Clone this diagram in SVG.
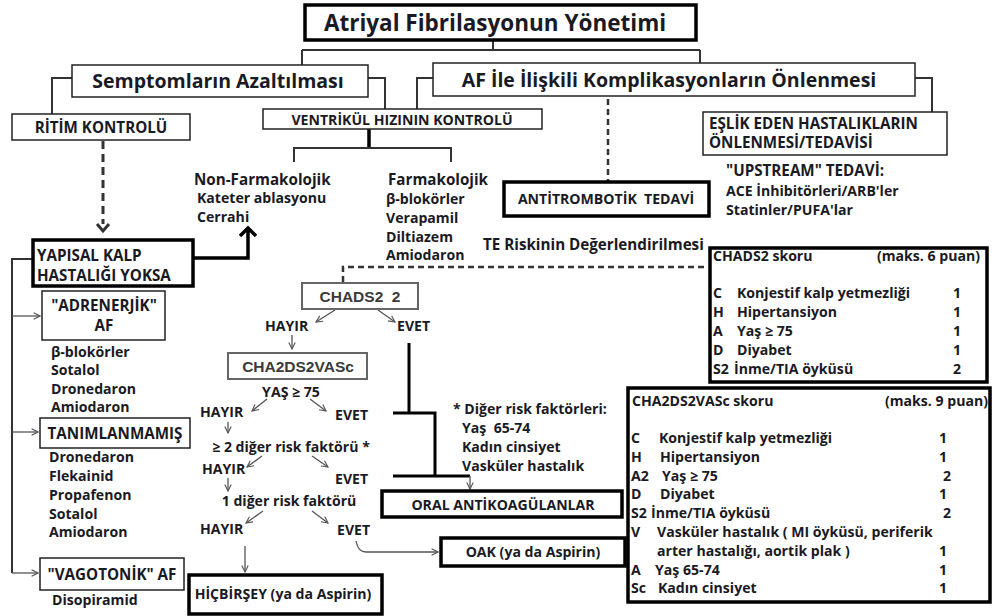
<svg xmlns="http://www.w3.org/2000/svg" width="992" height="616" viewBox="0 0 992 616">
<defs>
<marker id="arr" viewBox="0 0 10 10" refX="9" refY="5" markerWidth="8" markerHeight="8" markerUnits="userSpaceOnUse" orient="auto">
<path d="M1,1 L9,5 L1,9" fill="none" stroke="#555" stroke-width="1.4"/>
</marker>
</defs>
<style>
text{font-family:"Open Sans","Noto Sans","Liberation Sans",Arial,sans-serif;font-weight:bold;fill:#1a1a24;white-space:pre}
.t14{font-size:15.2px}
.t13{font-size:14.1px}
.t18{font-size:19.5px}
.g{font-family:"Liberation Sans",Arial,sans-serif;fill:#3a3a3a;font-size:15.5px}
.box{fill:#fff;stroke:#222;stroke-width:1.5}
.bx3{fill:#fff;stroke:#000;stroke-width:3.5}
.gbox{fill:#fff;stroke:#666;stroke-width:2}
.c{text-anchor:middle}
.ln{fill:none;stroke:#333;stroke-width:2}
.thk{fill:none;stroke:#000;stroke-width:3.5}
.ar{fill:none;stroke:#555;stroke-width:1.3;marker-end:url(#arr)}
.dash{fill:none;stroke:#333;stroke-width:2.5;stroke-dasharray:6 4}
</style>
<rect width="992" height="616" fill="#fff"/>
<g id="connectors">
<path class="ln" d="M493,40 V50 M302,50 H700 M302,50 V65 M700,50 V63"/>
<path class="ln" d="M72,78 H52 V114 M368,78 H385 V109 M433,78 H417 V109 M915,78 H932 V112"/>
<path class="thk" d="M369,129 V148"/>
<path class="ln" d="M294,162 V148 H451 V162"/>
<path class="dash" d="M608,99 V181"/>
<path d="M103,141 V224" fill="none" stroke="#333" stroke-width="3" stroke-dasharray="8 5"/>
<path d="M97,224 L103,231 L109,224" fill="none" stroke="#333" stroke-width="3"/>
<path class="thk" d="M193,258 H248 V229 M240,236 L248,228 L256,236"/>
<path class="ln" d="M33,259 H12 V573"/>
<path class="ar" d="M12,316 H40"/>
<path class="ar" d="M12,432 H38"/>
<path class="ar" d="M12,573 H38"/>
<path class="dash" d="M343,282 V267 H708"/>
<path class="ar" d="M335,310 L316,322"/>
<path class="ar" d="M378,310 L395,322"/>
<path class="ar" d="M292,335 V349"/>
<path class="ar" d="M267,399 L252,411"/>
<path class="ar" d="M310,399 L326,411"/>
<path class="ar" d="M228,422 V433"/>
<path class="ar" d="M262,456 L247,467"/>
<path class="ar" d="M312,456 L328,467"/>
<path class="ar" d="M228,478 V491"/>
<path class="ar" d="M263,511 L246,523"/>
<path class="ar" d="M312,511 L328,523"/>
<path class="ar" d="M245,546 V572"/>
<path class="ar" d="M356,541 Q358,552 366,552 H438"/>
<path d="M409,343 V413 M393,413 H435 V476 M393,476 H470" fill="none" stroke="#000" stroke-width="3"/>
<path class="ar" d="M470,476 V489"/>
</g>
<g id="title">
<rect x="305" y="5" width="391" height="35" class="bx3"/>
<text x="495" y="30.5" class="c" style="font-size:22.5px">Atriyal Fibrilasyonun Yönetimi</text>
</g>
<g id="semptom">
<rect x="72" y="65" width="296" height="32" class="box"/>
<text x="218" y="88" class="c t18">Semptomların Azaltılması</text>
</g>
<g id="af-komp">
<rect x="433" y="63" width="482" height="33" class="box"/>
<text x="669" y="87" class="c t18">AF İle İlişkili Komplikasyonların Önlenmesi</text>
</g>
<g id="ritim">
<rect x="12" y="114" width="178" height="26" class="box"/>
<text x="101" y="132.5" class="c t14">RİTİM KONTROLÜ</text>
</g>
<g id="ventrikul">
<rect x="263" y="109" width="279" height="20" class="box"/>
<text x="402" y="124.5" class="c t13">VENTRİKÜL HIZININ KONTROLÜ</text>
</g>
<g id="eslik">
<rect x="703" y="112" width="244" height="43" class="box"/>
<text x="709" y="129" class="t14">EŞLİK EDEN HASTALIKLARIN</text>
<text x="709" y="148" class="t14">ÖNLENMESİ/TEDAVİSİ</text>
</g>
<g id="upstream">
<text x="726" y="176" class="t14">"UPSTREAM" TEDAVİ:</text>
<text x="726" y="196" class="t13">ACE İnhibitörleri/ARB'ler</text>
<text x="726" y="215" class="t13">Statinler/PUFA'lar</text>
</g>
<g id="antitrombotik">
<rect x="504" y="182" width="205" height="34" class="bx3"/>
<text x="606" y="204" class="c t13">ANTİTROMBOTİK  TEDAVİ</text>
</g>
<g id="nonfarm">
<text x="194" y="185" class="t14">Non-Farmakolojik</text>
<text x="197" y="203" class="t13">Kateter ablasyonu</text>
<text x="197" y="222" class="t13">Cerrahi</text>
</g>
<g id="farm">
<text x="388" y="185" class="t14">Farmakolojik</text>
<text x="386" y="204" class="t13">β-blokörler</text>
<text x="386" y="223" class="t13">Verapamil</text>
<text x="386" y="242" class="t13">Diltiazem</text>
<text x="386" y="260" class="t13">Amiodaron</text>
</g>
<g id="yapisal">
<rect x="33" y="240" width="160" height="46" class="bx3"/>
<text x="37" y="261" class="t14">YAPISAL KALP</text>
<text x="37" y="281" class="t14">HASTALIĞI YOKSA</text>
</g>
<g id="adrenerjik">
<rect x="42" y="291" width="123" height="49" class="box"/>
<text x="104" y="311" class="c t14">"ADRENERJİK"</text>
<text x="104" y="331" class="c t14">AF</text>
<text x="51" y="357" class="t13">β-blokörler</text>
<text x="51" y="375" class="t13">Sotalol</text>
<text x="51" y="394" class="t13">Dronedaron</text>
<text x="51" y="412" class="t13">Amiodaron</text>
</g>
<g id="tanimlanmamis">
<rect x="40" y="418" width="150" height="30" class="box"/>
<text x="115" y="439" class="c t14">TANIMLANMAMIŞ</text>
<text x="49" y="462" class="t13">Dronedaron</text>
<text x="49" y="481" class="t13">Flekainid</text>
<text x="49" y="500" class="t13">Propafenon</text>
<text x="49" y="519" class="t13">Sotalol</text>
<text x="49" y="537" class="t13">Amiodaron</text>
</g>
<g id="vagotonik">
<rect x="40" y="558" width="144" height="32" class="box"/>
<text x="112" y="579.5" class="c t14">"VAGOTONİK" AF</text>
<text x="52" y="605" class="t13">Disopiramid</text>
</g>
<g id="te-risk">
<text x="483" y="250" class="t14">TE Riskinin Değerlendirilmesi</text>
</g>
<g id="chads2">
<rect x="302" y="283" width="116" height="26" class="gbox"/>
<text x="360" y="302" class="c g">CHADS2  2</text>
</g>
<g id="flow-labels">
<text x="265" y="331" class="t13">HAYIR</text>
<text x="397" y="331" class="t13">EVET</text>
<text x="291" y="397" class="c t13">YAŞ ≥ 75</text>
<text x="200" y="417" class="t13">HAYIR</text>
<text x="335" y="420" class="t13">EVET</text>
<text x="291" y="452" class="c t13">≥ 2 diğer risk faktörü *</text>
<text x="202" y="474" class="t13">HAYIR</text>
<text x="335" y="484" class="t13">EVET</text>
<text x="289" y="506" class="c t13">1 diğer risk faktörü</text>
<text x="200" y="534" class="t13">HAYIR</text>
<text x="337" y="535" class="t13">EVET</text>
</g>
<g id="cha2ds2vasc">
<rect x="228" y="353" width="139" height="26" class="gbox"/>
<text x="298" y="371.5" class="c g">CHA2DS2VASc</text>
</g>
<g id="diger">
<text x="453" y="414" class="t13">* Diğer risk faktörleri:</text>
<text x="462" y="433" class="t13">Yaş  65-74</text>
<text x="462" y="452" class="t13">Kadın cinsiyet</text>
<text x="462" y="471" class="t13">Vasküler hastalık</text>
</g>
<g id="oral">
<rect x="382" y="491" width="240" height="26" class="bx3"/>
<text x="503" y="509.5" class="c t13">ORAL ANTİKOAGÜLANLAR</text>
</g>
<g id="oak">
<rect x="441" y="538" width="184" height="28" class="bx3"/>
<text x="533" y="557" class="c t13">OAK (ya da Aspirin)</text>
</g>
<g id="hicbirsey">
<rect x="189" y="575" width="193" height="39" class="bx3"/>
<text x="283" y="599" class="c t13">HİÇBİRŞEY (ya da Aspirin)</text>
</g>
<g id="chads2-skor">
<rect x="710" y="248" width="277" height="134" class="bx3"/>
<text x="713" y="261" class="t13">CHADS2 skoru</text>
<text x="980" y="261" class="t13" text-anchor="end">(maks. 6 puan)</text>
<text x="713" y="298" class="t13">C</text><text x="737" y="298" class="t13">Konjestif kalp yetmezliği</text><text x="957" y="298" class="c t13">1</text>
<text x="713" y="317" class="t13">H</text><text x="737" y="317" class="t13">Hipertansiyon</text><text x="957" y="317" class="c t13">1</text>
<text x="713" y="336" class="t13">A</text><text x="737" y="336" class="t13">Yaş ≥ 75</text><text x="957" y="336" class="c t13">1</text>
<text x="713" y="355" class="t13">D</text><text x="737" y="355" class="t13">Diyabet</text><text x="957" y="355" class="c t13">1</text>
<text x="713" y="374" class="t13">S2</text><text x="734" y="374" class="t13">İnme/TIA öyküsü</text><text x="957" y="374" class="c t13">2</text>
</g>
<g id="cha2ds2vasc-skor">
<rect x="628" y="388" width="362" height="214" class="bx3"/>
<text x="632" y="406" class="t13">CHA2DS2VASc skoru</text>
<text x="988" y="406" class="t13" text-anchor="end">(maks. 9 puan)</text>
<text x="631" y="443" class="t13">C</text><text x="659" y="443" class="t13">Konjestif kalp yetmezliği</text><text x="943" y="443" class="c t13">1</text>
<text x="631" y="462" class="t13">H</text><text x="660" y="462" class="t13">Hipertansiyon</text><text x="943" y="462" class="c t13">1</text>
<text x="631" y="481" class="t13">A2</text><text x="662" y="481" class="t13">Yaş ≥ 75</text><text x="947" y="481" class="c t13">2</text>
<text x="631" y="499" class="t13">D</text><text x="660" y="499" class="t13">Diyabet</text><text x="943" y="499" class="c t13">1</text>
<text x="631" y="518" class="t13">S2</text><text x="651" y="518" class="t13">İnme/TIA öyküsü</text><text x="947" y="518" class="c t13">2</text>
<text x="631" y="537" class="t13">V</text><text x="657" y="537" class="t13">Vasküler hastalık ( MI öyküsü, periferik</text>
<text x="657" y="556" class="t13">arter hastalığı, aortik plak )</text><text x="943" y="556" class="c t13">1</text>
<text x="631" y="575" class="t13">A</text><text x="655" y="575" class="t13">Yaş 65-74</text><text x="943" y="575" class="c t13">1</text>
<text x="631" y="593" class="t13">Sc</text><text x="658" y="593" class="t13">Kadın cinsiyet</text><text x="943" y="593" class="c t13">1</text>
</g>
</svg>
